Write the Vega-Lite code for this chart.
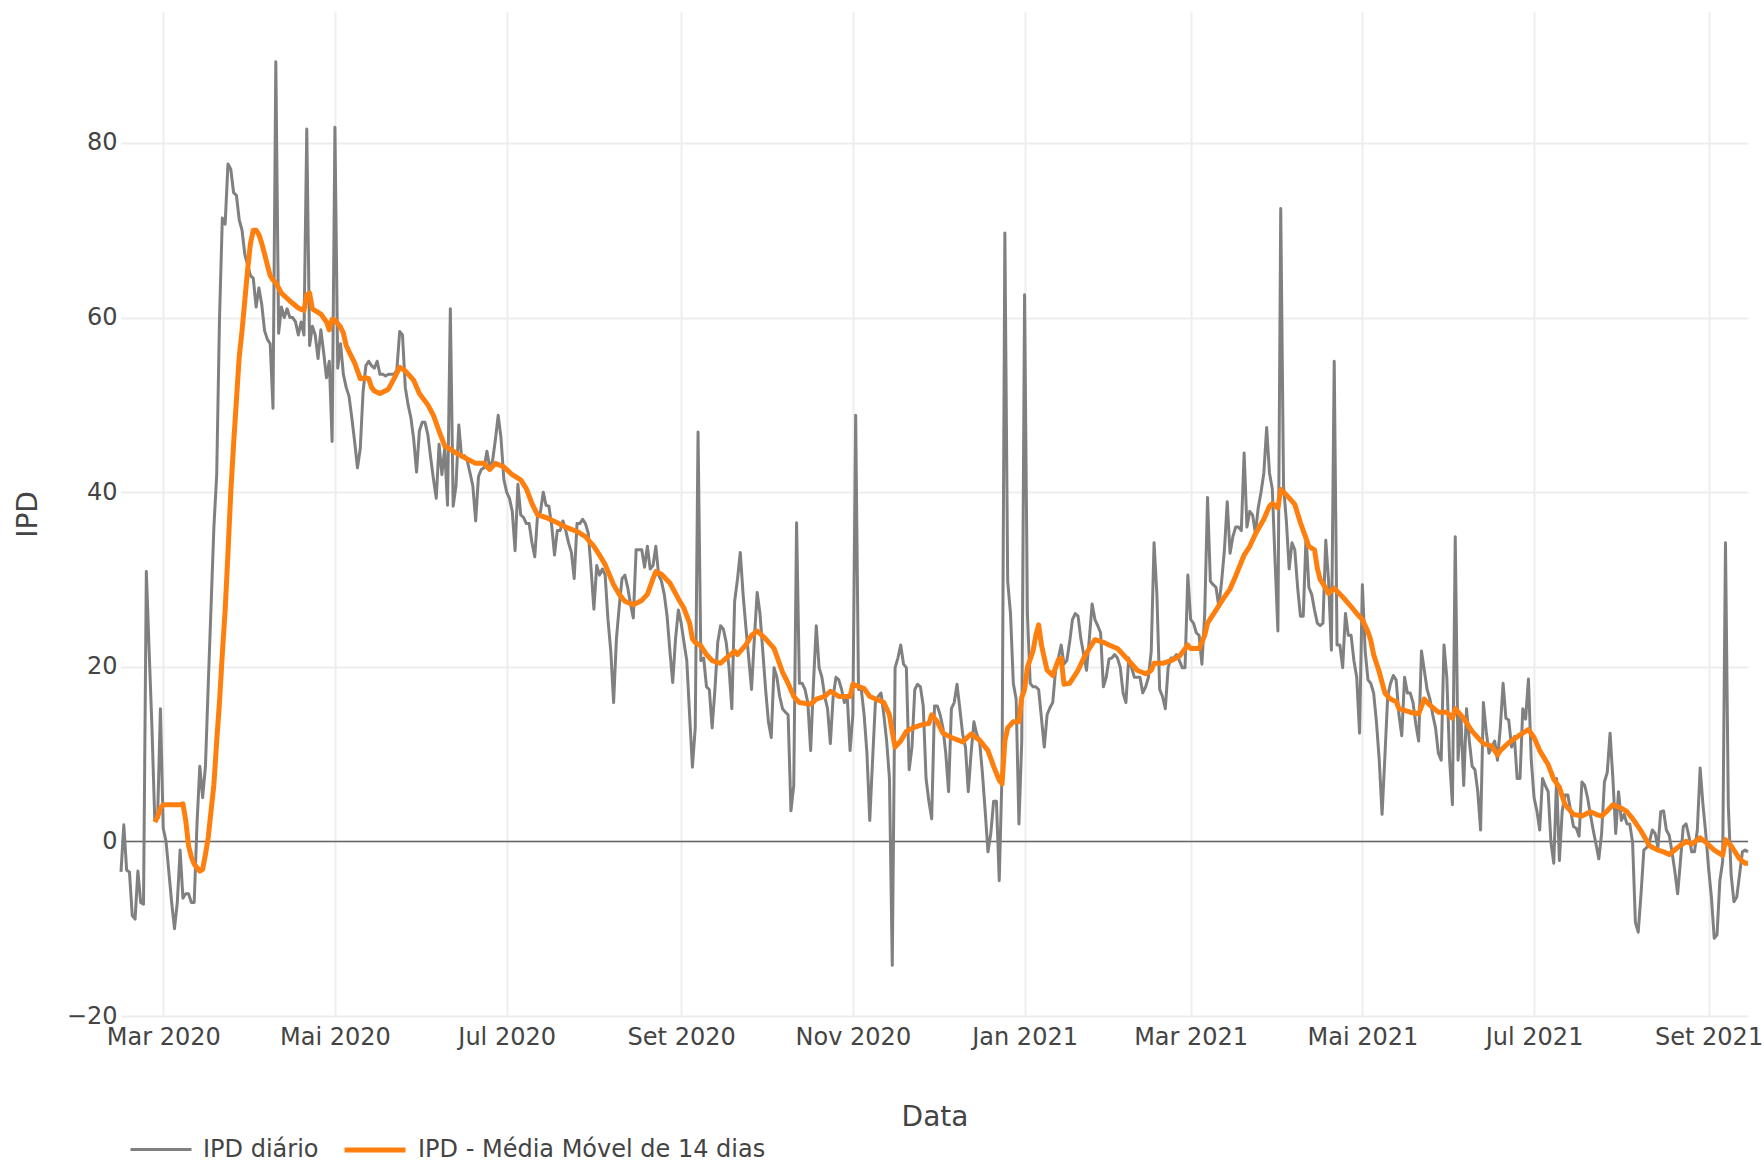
{
"$schema": "https://vega.github.io/schema/vega-lite/v6.json",
"width": 1627, "height": 1004,
"autosize": {"type": "none"},
"padding": {"left": 121, "top": 12, "right": 16, "bottom": 147},
"background": "white",
"config": {"view": {"stroke": null}, "font": "DejaVu Sans",
 "axis": {"domain": false, "ticks": false, "grid": true, "gridColor": "#eeeeee", "gridWidth": 2, "labelFont": "DejaVu Sans", "labelFontSize": 24, "labelColor": "#444444", "titleFont": "DejaVu Sans", "titleFontSize": 28, "titleColor": "#444444", "titleFontWeight": "normal"}},
"datasets": {
"diario": [
{"t":"2020-02-15","v":-3.5},{"t":"2020-02-16","v":1.9},{"t":"2020-02-17","v":-3.3},{"t":"2020-02-18","v":-3.5},{"t":"2020-02-19","v":-8.5},{"t":"2020-02-20","v":-8.9},{"t":"2020-02-21","v":-3.4},{"t":"2020-02-22","v":-7},{"t":"2020-02-23","v":-7.2},{"t":"2020-02-24","v":30.9},{"t":"2020-02-25","v":21.8},{"t":"2020-02-26","v":13},{"t":"2020-02-27","v":2.4},{"t":"2020-02-28","v":2.6},{"t":"2020-02-29","v":15.2},
{"t":"2020-03-01","v":1.5},{"t":"2020-03-02","v":0},{"t":"2020-03-03","v":-3.5},{"t":"2020-03-04","v":-7},{"t":"2020-03-05","v":-10},{"t":"2020-03-06","v":-7},{"t":"2020-03-07","v":-1},{"t":"2020-03-08","v":-6.5},{"t":"2020-03-09","v":-6},{"t":"2020-03-10","v":-6},{"t":"2020-03-11","v":-7},{"t":"2020-03-12","v":-7},{"t":"2020-03-13","v":2},{"t":"2020-03-14","v":8.6},{"t":"2020-03-15","v":5},{"t":"2020-03-16","v":8.6},{"t":"2020-03-17","v":18},{"t":"2020-03-18","v":27},{"t":"2020-03-19","v":36},{"t":"2020-03-20","v":42},{"t":"2020-03-21","v":60},{"t":"2020-03-22","v":71.4},{"t":"2020-03-23","v":70.7},{"t":"2020-03-24","v":77.6},{"t":"2020-03-25","v":77},{"t":"2020-03-26","v":74.3},{"t":"2020-03-27","v":74},{"t":"2020-03-28","v":71.2},{"t":"2020-03-29","v":70},{"t":"2020-03-30","v":67.2},{"t":"2020-03-31","v":66},
{"t":"2020-04-01","v":64.8},{"t":"2020-04-02","v":64.5},{"t":"2020-04-03","v":61.2},{"t":"2020-04-04","v":63.4},{"t":"2020-04-05","v":61.5},{"t":"2020-04-06","v":58.5},{"t":"2020-04-07","v":57.5},{"t":"2020-04-08","v":57},{"t":"2020-04-09","v":49.6},{"t":"2020-04-10","v":89.3},{"t":"2020-04-11","v":58.2},{"t":"2020-04-12","v":61.2},{"t":"2020-04-13","v":60},{"t":"2020-04-14","v":61},{"t":"2020-04-15","v":60},{"t":"2020-04-16","v":60},{"t":"2020-04-17","v":59.5},{"t":"2020-04-18","v":58},{"t":"2020-04-19","v":59.5},{"t":"2020-04-20","v":58},{"t":"2020-04-21","v":81.6},{"t":"2020-04-22","v":56.8},{"t":"2020-04-23","v":59},{"t":"2020-04-24","v":58},{"t":"2020-04-25","v":55.3},{"t":"2020-04-26","v":58.6},{"t":"2020-04-27","v":56},{"t":"2020-04-28","v":53.1},{"t":"2020-04-29","v":55},{"t":"2020-04-30","v":45.8},
{"t":"2020-05-01","v":81.8},{"t":"2020-05-02","v":54.2},{"t":"2020-05-03","v":57},{"t":"2020-05-04","v":53.5},{"t":"2020-05-05","v":52},{"t":"2020-05-06","v":51},{"t":"2020-05-07","v":48.5},{"t":"2020-05-08","v":45.8},{"t":"2020-05-09","v":42.8},{"t":"2020-05-10","v":45},{"t":"2020-05-11","v":51.5},{"t":"2020-05-12","v":54.5},{"t":"2020-05-13","v":55},{"t":"2020-05-14","v":54.5},{"t":"2020-05-15","v":54.2},{"t":"2020-05-16","v":55},{"t":"2020-05-17","v":53.5},{"t":"2020-05-18","v":53.5},{"t":"2020-05-19","v":53.3},{"t":"2020-05-20","v":53.5},{"t":"2020-05-21","v":53.5},{"t":"2020-05-22","v":53.5},{"t":"2020-05-23","v":54},{"t":"2020-05-24","v":58.4},{"t":"2020-05-25","v":58},{"t":"2020-05-26","v":52},{"t":"2020-05-27","v":50},{"t":"2020-05-28","v":48.5},{"t":"2020-05-29","v":46},{"t":"2020-05-30","v":42.3},{"t":"2020-05-31","v":47},
{"t":"2020-06-01","v":48},{"t":"2020-06-02","v":48},{"t":"2020-06-03","v":46.6},{"t":"2020-06-04","v":44},{"t":"2020-06-05","v":41.5},{"t":"2020-06-06","v":39.3},{"t":"2020-06-07","v":45.5},{"t":"2020-06-08","v":42},{"t":"2020-06-09","v":45},{"t":"2020-06-10","v":38.5},{"t":"2020-06-11","v":61},{"t":"2020-06-12","v":38.4},{"t":"2020-06-13","v":40.7},{"t":"2020-06-14","v":47.7},{"t":"2020-06-15","v":44},{"t":"2020-06-16","v":44.2},{"t":"2020-06-17","v":43.6},{"t":"2020-06-18","v":42.2},{"t":"2020-06-19","v":40.7},{"t":"2020-06-20","v":36.7},{"t":"2020-06-21","v":41.8},{"t":"2020-06-22","v":42.6},{"t":"2020-06-23","v":42.8},{"t":"2020-06-24","v":44.7},{"t":"2020-06-25","v":42.8},{"t":"2020-06-26","v":43.6},{"t":"2020-06-27","v":46},{"t":"2020-06-28","v":48.8},{"t":"2020-06-29","v":46.2},{"t":"2020-06-30","v":41.5},
{"t":"2020-07-01","v":40},{"t":"2020-07-02","v":39.3},{"t":"2020-07-03","v":37.8},{"t":"2020-07-04","v":33.3},{"t":"2020-07-05","v":40.9},{"t":"2020-07-06","v":37.4},{"t":"2020-07-07","v":37.1},{"t":"2020-07-08","v":36.4},{"t":"2020-07-09","v":36.4},{"t":"2020-07-10","v":34.2},{"t":"2020-07-11","v":32.6},{"t":"2020-07-12","v":37.5},{"t":"2020-07-13","v":37.7},{"t":"2020-07-14","v":40},{"t":"2020-07-15","v":38.5},{"t":"2020-07-16","v":38.4},{"t":"2020-07-17","v":36.2},{"t":"2020-07-18","v":32.8},{"t":"2020-07-19","v":35.6},{"t":"2020-07-20","v":35.6},{"t":"2020-07-21","v":36.7},{"t":"2020-07-22","v":35.6},{"t":"2020-07-23","v":34.2},{"t":"2020-07-24","v":33.1},{"t":"2020-07-25","v":30.1},{"t":"2020-07-26","v":36.4},{"t":"2020-07-27","v":36.4},{"t":"2020-07-28","v":36.9},{"t":"2020-07-29","v":36.4},{"t":"2020-07-30","v":35.3},{"t":"2020-07-31","v":31.2},
{"t":"2020-08-01","v":26.6},{"t":"2020-08-02","v":31.6},{"t":"2020-08-03","v":30.5},{"t":"2020-08-04","v":31.2},{"t":"2020-08-05","v":30.5},{"t":"2020-08-06","v":25.4},{"t":"2020-08-07","v":21.8},{"t":"2020-08-08","v":15.9},{"t":"2020-08-09","v":23.2},{"t":"2020-08-10","v":26.9},{"t":"2020-08-11","v":30.1},{"t":"2020-08-12","v":30.5},{"t":"2020-08-13","v":29.1},{"t":"2020-08-14","v":27.2},{"t":"2020-08-15","v":25.6},{"t":"2020-08-16","v":33.4},{"t":"2020-08-17","v":33.4},{"t":"2020-08-18","v":33.4},{"t":"2020-08-19","v":31.4},{"t":"2020-08-20","v":33.8},{"t":"2020-08-21","v":31.2},{"t":"2020-08-22","v":31.6},{"t":"2020-08-23","v":33.8},{"t":"2020-08-24","v":30.5},{"t":"2020-08-25","v":29.8},{"t":"2020-08-26","v":28.3},{"t":"2020-08-27","v":25.8},{"t":"2020-08-28","v":21.8},{"t":"2020-08-29","v":18.2},{"t":"2020-08-30","v":23.2},{"t":"2020-08-31","v":26.5},
{"t":"2020-09-01","v":25},{"t":"2020-09-02","v":22.8},{"t":"2020-09-03","v":20.7},{"t":"2020-09-04","v":14.5},{"t":"2020-09-05","v":8.5},{"t":"2020-09-06","v":13},{"t":"2020-09-07","v":46.9},{"t":"2020-09-08","v":20.7},{"t":"2020-09-09","v":21},{"t":"2020-09-10","v":17.7},{"t":"2020-09-11","v":17.4},{"t":"2020-09-12","v":13},{"t":"2020-09-13","v":17.4},{"t":"2020-09-14","v":22.8},{"t":"2020-09-15","v":24.7},{"t":"2020-09-16","v":24.3},{"t":"2020-09-17","v":22.8},{"t":"2020-09-18","v":19.9},{"t":"2020-09-19","v":15.2},{"t":"2020-09-20","v":27.5},{"t":"2020-09-21","v":30},{"t":"2020-09-22","v":33.1},{"t":"2020-09-23","v":28.3},{"t":"2020-09-24","v":24.5},{"t":"2020-09-25","v":21},{"t":"2020-09-26","v":17.4},{"t":"2020-09-27","v":23.2},{"t":"2020-09-28","v":28.5},{"t":"2020-09-29","v":26.1},{"t":"2020-09-30","v":21.8},
{"t":"2020-10-01","v":17.4},{"t":"2020-10-02","v":13.7},{"t":"2020-10-03","v":11.9},{"t":"2020-10-04","v":19.9},{"t":"2020-10-05","v":18.8},{"t":"2020-10-06","v":16.6},{"t":"2020-10-07","v":15.2},{"t":"2020-10-08","v":14.8},{"t":"2020-10-09","v":14.5},{"t":"2020-10-10","v":3.5},{"t":"2020-10-11","v":6.4},{"t":"2020-10-12","v":36.5},{"t":"2020-10-13","v":18.1},{"t":"2020-10-14","v":18.1},{"t":"2020-10-15","v":17.4},{"t":"2020-10-16","v":15.9},{"t":"2020-10-17","v":10.4},{"t":"2020-10-18","v":18.1},{"t":"2020-10-19","v":24.7},{"t":"2020-10-20","v":19.9},{"t":"2020-10-21","v":18.8},{"t":"2020-10-22","v":16.6},{"t":"2020-10-23","v":15.2},{"t":"2020-10-24","v":11.2},{"t":"2020-10-25","v":16.6},{"t":"2020-10-26","v":18.8},{"t":"2020-10-27","v":18.5},{"t":"2020-10-28","v":17.4},{"t":"2020-10-29","v":15.9},{"t":"2020-10-30","v":16.6},{"t":"2020-10-31","v":10.4},
{"t":"2020-11-01","v":14.5},{"t":"2020-11-02","v":48.8},{"t":"2020-11-03","v":17.4},{"t":"2020-11-04","v":17.4},{"t":"2020-11-05","v":14.5},{"t":"2020-11-06","v":10.1},{"t":"2020-11-07","v":2.4},{"t":"2020-11-08","v":9.3},{"t":"2020-11-09","v":15.9},{"t":"2020-11-10","v":16.6},{"t":"2020-11-11","v":17},{"t":"2020-11-12","v":14.5},{"t":"2020-11-13","v":11.5},{"t":"2020-11-14","v":7.2},{"t":"2020-11-15","v":-14.2},{"t":"2020-11-16","v":19.9},{"t":"2020-11-17","v":21},{"t":"2020-11-18","v":22.5},{"t":"2020-11-19","v":20.3},{"t":"2020-11-20","v":19.9},{"t":"2020-11-21","v":8.2},{"t":"2020-11-22","v":10.8},{"t":"2020-11-23","v":17.4},{"t":"2020-11-24","v":18},{"t":"2020-11-25","v":17.7},{"t":"2020-11-26","v":15.5},{"t":"2020-11-27","v":7.2},{"t":"2020-11-28","v":4.6},{"t":"2020-11-29","v":2.6},{"t":"2020-11-30","v":15.5},
{"t":"2020-12-01","v":15.5},{"t":"2020-12-02","v":14.5},{"t":"2020-12-03","v":13},{"t":"2020-12-04","v":10.1},{"t":"2020-12-05","v":5.7},{"t":"2020-12-06","v":15.2},{"t":"2020-12-07","v":15.9},{"t":"2020-12-08","v":18},{"t":"2020-12-09","v":15.2},{"t":"2020-12-10","v":12.3},{"t":"2020-12-11","v":10.8},{"t":"2020-12-12","v":5.7},{"t":"2020-12-13","v":10.1},{"t":"2020-12-14","v":13.7},{"t":"2020-12-15","v":12.3},{"t":"2020-12-16","v":11.5},{"t":"2020-12-17","v":7.9},{"t":"2020-12-18","v":3.5},{"t":"2020-12-19","v":-1.2},{"t":"2020-12-20","v":0.9},{"t":"2020-12-21","v":4.6},{"t":"2020-12-22","v":4.6},{"t":"2020-12-23","v":-4.5},{"t":"2020-12-24","v":7.9},{"t":"2020-12-25","v":69.7},{"t":"2020-12-26","v":29.8},{"t":"2020-12-27","v":26.1},{"t":"2020-12-28","v":18.1},{"t":"2020-12-29","v":16.3},{"t":"2020-12-30","v":2},{"t":"2020-12-31","v":11.5},
{"t":"2021-01-01","v":62.6},{"t":"2021-01-02","v":26.1},{"t":"2021-01-03","v":18.1},{"t":"2021-01-04","v":17.7},{"t":"2021-01-05","v":17.7},{"t":"2021-01-06","v":17.4},{"t":"2021-01-07","v":14.1},{"t":"2021-01-08","v":10.8},{"t":"2021-01-09","v":14.5},{"t":"2021-01-10","v":15.3},{"t":"2021-01-11","v":15.9},{"t":"2021-01-12","v":19.6},{"t":"2021-01-13","v":21},{"t":"2021-01-14","v":22.5},{"t":"2021-01-15","v":20.3},{"t":"2021-01-16","v":20.7},{"t":"2021-01-17","v":22.8},{"t":"2021-01-18","v":25.4},{"t":"2021-01-19","v":26.1},{"t":"2021-01-20","v":25.8},{"t":"2021-01-21","v":23.2},{"t":"2021-01-22","v":21.4},{"t":"2021-01-23","v":19.6},{"t":"2021-01-24","v":23.2},{"t":"2021-01-25","v":27.2},{"t":"2021-01-26","v":25.4},{"t":"2021-01-27","v":24.7},{"t":"2021-01-28","v":23.9},{"t":"2021-01-29","v":17.7},{"t":"2021-01-30","v":18.8},{"t":"2021-01-31","v":20.9},
{"t":"2021-02-01","v":21},{"t":"2021-02-02","v":21.4},{"t":"2021-02-03","v":21},{"t":"2021-02-04","v":19.9},{"t":"2021-02-05","v":17},{"t":"2021-02-06","v":15.9},{"t":"2021-02-07","v":21},{"t":"2021-02-08","v":19.9},{"t":"2021-02-09","v":18.8},{"t":"2021-02-10","v":18.8},{"t":"2021-02-11","v":18.8},{"t":"2021-02-12","v":17},{"t":"2021-02-13","v":17.7},{"t":"2021-02-14","v":18.8},{"t":"2021-02-15","v":21.8},{"t":"2021-02-16","v":34.2},{"t":"2021-02-17","v":28.3},{"t":"2021-02-18","v":17.4},{"t":"2021-02-19","v":16.6},{"t":"2021-02-20","v":15.2},{"t":"2021-02-21","v":19.9},{"t":"2021-02-22","v":21},{"t":"2021-02-23","v":21},{"t":"2021-02-24","v":21.4},{"t":"2021-02-25","v":20.7},{"t":"2021-02-26","v":19.9},{"t":"2021-02-27","v":19.9},{"t":"2021-02-28","v":30.5},
{"t":"2021-03-01","v":25.4},{"t":"2021-03-02","v":25},{"t":"2021-03-03","v":23.9},{"t":"2021-03-04","v":23.6},{"t":"2021-03-05","v":20.3},{"t":"2021-03-06","v":26.1},{"t":"2021-03-07","v":39.4},{"t":"2021-03-08","v":29.8},{"t":"2021-03-09","v":29.4},{"t":"2021-03-10","v":29.1},{"t":"2021-03-11","v":26.9},{"t":"2021-03-12","v":29.8},{"t":"2021-03-13","v":33.4},{"t":"2021-03-14","v":38.9},{"t":"2021-03-15","v":33},{"t":"2021-03-16","v":34.9},{"t":"2021-03-17","v":36},{"t":"2021-03-18","v":36},{"t":"2021-03-19","v":35.6},{"t":"2021-03-20","v":44.5},{"t":"2021-03-21","v":36},{"t":"2021-03-22","v":37.8},{"t":"2021-03-23","v":37.4},{"t":"2021-03-24","v":35.3},{"t":"2021-03-25","v":38.2},{"t":"2021-03-26","v":40},{"t":"2021-03-27","v":42.2},{"t":"2021-03-28","v":47.4},{"t":"2021-03-29","v":42.2},{"t":"2021-03-30","v":40.4},{"t":"2021-03-31","v":32},
{"t":"2021-04-01","v":24.1},{"t":"2021-04-02","v":72.5},{"t":"2021-04-03","v":40.7},{"t":"2021-04-04","v":36.7},{"t":"2021-04-05","v":31.2},{"t":"2021-04-06","v":34.2},{"t":"2021-04-07","v":33.4},{"t":"2021-04-08","v":29.1},{"t":"2021-04-09","v":25.8},{"t":"2021-04-10","v":25.8},{"t":"2021-04-11","v":35},{"t":"2021-04-12","v":29.1},{"t":"2021-04-13","v":28.3},{"t":"2021-04-14","v":26.5},{"t":"2021-04-15","v":25},{"t":"2021-04-16","v":24.7},{"t":"2021-04-17","v":25},{"t":"2021-04-18","v":34.5},{"t":"2021-04-19","v":29.8},{"t":"2021-04-20","v":21.9},{"t":"2021-04-21","v":55},{"t":"2021-04-22","v":22.5},{"t":"2021-04-23","v":22.5},{"t":"2021-04-24","v":19.9},{"t":"2021-04-25","v":26.1},{"t":"2021-04-26","v":23.6},{"t":"2021-04-27","v":23.6},{"t":"2021-04-28","v":20.7},{"t":"2021-04-29","v":18.8},{"t":"2021-04-30","v":12.4},
{"t":"2021-05-01","v":29.4},{"t":"2021-05-02","v":21.8},{"t":"2021-05-03","v":18.5},{"t":"2021-05-04","v":18.1},{"t":"2021-05-05","v":17},{"t":"2021-05-06","v":13.7},{"t":"2021-05-07","v":9.3},{"t":"2021-05-08","v":3.1},{"t":"2021-05-09","v":9.7},{"t":"2021-05-10","v":16.6},{"t":"2021-05-11","v":18.1},{"t":"2021-05-12","v":19},{"t":"2021-05-13","v":18.5},{"t":"2021-05-14","v":14.5},{"t":"2021-05-15","v":12.1},{"t":"2021-05-16","v":18.8},{"t":"2021-05-17","v":17},{"t":"2021-05-18","v":17},{"t":"2021-05-19","v":15.9},{"t":"2021-05-20","v":13.4},{"t":"2021-05-21","v":11.5},{"t":"2021-05-22","v":21.8},{"t":"2021-05-23","v":19.6},{"t":"2021-05-24","v":17.4},{"t":"2021-05-25","v":16.3},{"t":"2021-05-26","v":14.5},{"t":"2021-05-27","v":13},{"t":"2021-05-28","v":10.1},{"t":"2021-05-29","v":9.3},{"t":"2021-05-30","v":22.5},{"t":"2021-05-31","v":18.8},
{"t":"2021-06-01","v":9.3},{"t":"2021-06-02","v":4.2},{"t":"2021-06-03","v":34.9},{"t":"2021-06-04","v":9.3},{"t":"2021-06-05","v":14.5},{"t":"2021-06-06","v":6.4},{"t":"2021-06-07","v":15.2},{"t":"2021-06-08","v":11.5},{"t":"2021-06-09","v":8.6},{"t":"2021-06-10","v":8.2},{"t":"2021-06-11","v":5.7},{"t":"2021-06-12","v":1.3},{"t":"2021-06-13","v":15.9},{"t":"2021-06-14","v":12.6},{"t":"2021-06-15","v":10.1},{"t":"2021-06-16","v":10.8},{"t":"2021-06-17","v":11.5},{"t":"2021-06-18","v":9.3},{"t":"2021-06-19","v":13},{"t":"2021-06-20","v":18.1},{"t":"2021-06-21","v":14.1},{"t":"2021-06-22","v":13.9},{"t":"2021-06-23","v":10.8},{"t":"2021-06-24","v":12},{"t":"2021-06-25","v":7.2},{"t":"2021-06-26","v":7.2},{"t":"2021-06-27","v":15.2},{"t":"2021-06-28","v":14},{"t":"2021-06-29","v":18.6},{"t":"2021-06-30","v":9.3},
{"t":"2021-07-01","v":5},{"t":"2021-07-02","v":3.5},{"t":"2021-07-03","v":1.3},{"t":"2021-07-04","v":7.2},{"t":"2021-07-05","v":6.4},{"t":"2021-07-06","v":5.7},{"t":"2021-07-07","v":-0.1},{"t":"2021-07-08","v":-2.5},{"t":"2021-07-09","v":7.2},{"t":"2021-07-10","v":-2.2},{"t":"2021-07-11","v":3.5},{"t":"2021-07-12","v":5.3},{"t":"2021-07-13","v":5.3},{"t":"2021-07-14","v":3.5},{"t":"2021-07-15","v":1.7},{"t":"2021-07-16","v":1.5},{"t":"2021-07-17","v":0.6},{"t":"2021-07-18","v":6.8},{"t":"2021-07-19","v":6.4},{"t":"2021-07-20","v":5},{"t":"2021-07-21","v":3.1},{"t":"2021-07-22","v":1.3},{"t":"2021-07-23","v":-0.3},{"t":"2021-07-24","v":-2},{"t":"2021-07-25","v":0.9},{"t":"2021-07-26","v":6.8},{"t":"2021-07-27","v":7.9},{"t":"2021-07-28","v":12.4},{"t":"2021-07-29","v":7.2},{"t":"2021-07-30","v":0.9},{"t":"2021-07-31","v":5.7},
{"t":"2021-08-01","v":2.4},{"t":"2021-08-02","v":3.1},{"t":"2021-08-03","v":2},{"t":"2021-08-04","v":2},{"t":"2021-08-05","v":-0.1},{"t":"2021-08-06","v":-9.3},{"t":"2021-08-07","v":-10.4},{"t":"2021-08-08","v":-6},{"t":"2021-08-09","v":-1},{"t":"2021-08-10","v":-0.7},{"t":"2021-08-11","v":0},{"t":"2021-08-12","v":1.3},{"t":"2021-08-13","v":0.9},{"t":"2021-08-14","v":-0.7},{"t":"2021-08-15","v":3.4},{"t":"2021-08-16","v":3.5},{"t":"2021-08-17","v":1.3},{"t":"2021-08-18","v":0.7},{"t":"2021-08-19","v":-1.2},{"t":"2021-08-20","v":-3.4},{"t":"2021-08-21","v":-6},{"t":"2021-08-22","v":-2.3},{"t":"2021-08-23","v":1.7},{"t":"2021-08-24","v":2},{"t":"2021-08-25","v":0.6},{"t":"2021-08-26","v":-1.2},{"t":"2021-08-27","v":-1.2},{"t":"2021-08-28","v":1.3},{"t":"2021-08-29","v":8.4},{"t":"2021-08-30","v":4.2},{"t":"2021-08-31","v":0.9},
{"t":"2021-09-01","v":-3.1},{"t":"2021-09-02","v":-6.4},{"t":"2021-09-03","v":-11.1},{"t":"2021-09-04","v":-10.7},{"t":"2021-09-05","v":-4.5},{"t":"2021-09-06","v":-2.3},{"t":"2021-09-07","v":34.2},{"t":"2021-09-08","v":4.2},{"t":"2021-09-09","v":-3.8},{"t":"2021-09-10","v":-6.9},{"t":"2021-09-11","v":-6.4},{"t":"2021-09-12","v":-3.8},{"t":"2021-09-13","v":-1.2},{"t":"2021-09-14","v":-1},{"t":"2021-09-15","v":-1.2}
],
"mm": [
{"t":"2020-02-27","v":2.2},{"t":"2020-02-28","v":2.8},{"t":"2020-02-29","v":3.8},{"t":"2020-03-01","v":4.2},{"t":"2020-03-04","v":4.2},{"t":"2020-03-07","v":4.2},{"t":"2020-03-08","v":4.3},{"t":"2020-03-09","v":2.4},{"t":"2020-03-10","v":-0.5},{"t":"2020-03-11","v":-1.8},{"t":"2020-03-12","v":-2.6},{"t":"2020-03-14","v":-3.4},{"t":"2020-03-15","v":-3.2},{"t":"2020-03-16","v":-1.5},{"t":"2020-03-17","v":0.5},{"t":"2020-03-18","v":3.5},{"t":"2020-03-19","v":6.5},{"t":"2020-03-20","v":11.5},{"t":"2020-03-21","v":16},{"t":"2020-03-22","v":21.5},{"t":"2020-03-23","v":26.5},{"t":"2020-03-24","v":33},{"t":"2020-03-25","v":40},{"t":"2020-03-26","v":45.5},{"t":"2020-03-27","v":50.5},{"t":"2020-03-28","v":55.5},{"t":"2020-03-29","v":58.5},{"t":"2020-03-30","v":62},{"t":"2020-03-31","v":65.5},
{"t":"2020-04-01","v":68.5},{"t":"2020-04-02","v":70},{"t":"2020-04-03","v":70},{"t":"2020-04-04","v":69.5},{"t":"2020-04-05","v":68.5},{"t":"2020-04-06","v":67.3},{"t":"2020-04-07","v":66},{"t":"2020-04-08","v":64.8},{"t":"2020-04-09","v":64.3},{"t":"2020-04-10","v":64},{"t":"2020-04-12","v":62.8},{"t":"2020-04-15","v":61.9},{"t":"2020-04-18","v":61.1},{"t":"2020-04-20","v":60.8},{"t":"2020-04-21","v":62.6},{"t":"2020-04-22","v":62.8},{"t":"2020-04-23","v":61},{"t":"2020-04-26","v":60.4},{"t":"2020-04-28","v":59.5},{"t":"2020-04-29","v":58.6},{"t":"2020-04-30","v":59.8},
{"t":"2020-05-01","v":59.7},{"t":"2020-05-03","v":58.9},{"t":"2020-05-04","v":58.2},{"t":"2020-05-05","v":56.8},{"t":"2020-05-06","v":56.1},{"t":"2020-05-08","v":54.8},{"t":"2020-05-10","v":53},{"t":"2020-05-12","v":53.1},{"t":"2020-05-13","v":53},{"t":"2020-05-14","v":52},{"t":"2020-05-15","v":51.6},{"t":"2020-05-17","v":51.3},{"t":"2020-05-20","v":51.8},{"t":"2020-05-22","v":53},{"t":"2020-05-24","v":54.3},{"t":"2020-05-26","v":53.9},{"t":"2020-05-29","v":52.8},{"t":"2020-05-31","v":51.3},
{"t":"2020-06-03","v":50},{"t":"2020-06-05","v":48.8},{"t":"2020-06-07","v":47},{"t":"2020-06-09","v":45.3},{"t":"2020-06-10","v":45.1},{"t":"2020-06-13","v":44.5},{"t":"2020-06-17","v":43.8},{"t":"2020-06-20","v":43.3},{"t":"2020-06-23","v":43.3},{"t":"2020-06-25","v":42.6},{"t":"2020-06-27","v":43.3},{"t":"2020-06-30","v":42.9},
{"t":"2020-07-03","v":42},{"t":"2020-07-06","v":41.4},{"t":"2020-07-08","v":40.4},{"t":"2020-07-10","v":38.7},{"t":"2020-07-12","v":37.4},{"t":"2020-07-15","v":37.1},{"t":"2020-07-19","v":36.5},{"t":"2020-07-22","v":36},{"t":"2020-07-26","v":35.5},{"t":"2020-07-29","v":34.9},
{"t":"2020-08-01","v":33.8},{"t":"2020-08-03","v":32.8},{"t":"2020-08-05","v":31.7},{"t":"2020-08-08","v":29.4},{"t":"2020-08-10","v":28.3},{"t":"2020-08-12","v":27.5},{"t":"2020-08-15","v":27.1},{"t":"2020-08-18","v":27.6},{"t":"2020-08-20","v":28.3},{"t":"2020-08-22","v":30.1},{"t":"2020-08-23","v":30.9},{"t":"2020-08-25","v":30.6},{"t":"2020-08-28","v":29.6},{"t":"2020-08-31","v":27.8},
{"t":"2020-09-02","v":26.7},{"t":"2020-09-04","v":25},{"t":"2020-09-05","v":23.2},{"t":"2020-09-06","v":22.8},{"t":"2020-09-08","v":22.4},{"t":"2020-09-10","v":21.4},{"t":"2020-09-12","v":20.7},{"t":"2020-09-15","v":20.4},{"t":"2020-09-17","v":21},{"t":"2020-09-20","v":21.8},{"t":"2020-09-21","v":21.4},{"t":"2020-09-24","v":22.5},{"t":"2020-09-26","v":23.6},{"t":"2020-09-28","v":24.1},
{"t":"2020-10-01","v":23.2},{"t":"2020-10-04","v":22.1},{"t":"2020-10-07","v":19.4},{"t":"2020-10-09","v":18.1},{"t":"2020-10-11","v":16.6},{"t":"2020-10-13","v":15.9},{"t":"2020-10-17","v":15.7},{"t":"2020-10-19","v":16.3},{"t":"2020-10-22","v":16.6},{"t":"2020-10-24","v":17.2},{"t":"2020-10-27","v":16.6},{"t":"2020-10-31","v":16.6},
{"t":"2020-11-01","v":18},{"t":"2020-11-05","v":17.5},{"t":"2020-11-07","v":16.6},{"t":"2020-11-10","v":16.2},{"t":"2020-11-12","v":15.9},{"t":"2020-11-14","v":14.5},{"t":"2020-11-15","v":12.5},{"t":"2020-11-16","v":10.8},{"t":"2020-11-18","v":11.5},{"t":"2020-11-20","v":12.6},{"t":"2020-11-23","v":13.1},{"t":"2020-11-26","v":13.4},{"t":"2020-11-28","v":13.5},{"t":"2020-11-29","v":14.5},
{"t":"2020-12-01","v":13.7},{"t":"2020-12-03","v":12.4},{"t":"2020-12-06","v":11.9},{"t":"2020-12-10","v":11.4},{"t":"2020-12-13","v":12.3},{"t":"2020-12-16","v":11.6},{"t":"2020-12-19","v":10.4},{"t":"2020-12-21","v":8.6},{"t":"2020-12-23","v":7},{"t":"2020-12-24","v":6.6},{"t":"2020-12-25","v":11.5},{"t":"2020-12-26","v":13},{"t":"2020-12-28","v":13.7},{"t":"2020-12-30","v":13.7},{"t":"2020-12-31","v":16.5},
{"t":"2021-01-01","v":17.4},{"t":"2021-01-02","v":19.9},{"t":"2021-01-04","v":21.8},{"t":"2021-01-05","v":23.6},{"t":"2021-01-06","v":24.8},{"t":"2021-01-07","v":22.5},{"t":"2021-01-08","v":21},{"t":"2021-01-09","v":19.6},{"t":"2021-01-11","v":19},{"t":"2021-01-13","v":20.8},{"t":"2021-01-14","v":21},{"t":"2021-01-15","v":18},{"t":"2021-01-17","v":18.1},{"t":"2021-01-20","v":19.6},{"t":"2021-01-22","v":21},{"t":"2021-01-24","v":22.1},{"t":"2021-01-26","v":23.1},{"t":"2021-01-29","v":22.8},{"t":"2021-01-31","v":22.5},
{"t":"2021-02-03","v":22.1},{"t":"2021-02-05","v":21.4},{"t":"2021-02-07","v":20.7},{"t":"2021-02-10","v":19.6},{"t":"2021-02-13","v":19.2},{"t":"2021-02-15","v":19.6},{"t":"2021-02-16","v":20.4},{"t":"2021-02-19","v":20.4},{"t":"2021-02-22","v":20.7},{"t":"2021-02-25","v":21.2},{"t":"2021-02-28","v":22.5},
{"t":"2021-03-01","v":22.1},{"t":"2021-03-04","v":22.1},{"t":"2021-03-06","v":23.6},{"t":"2021-03-07","v":25},{"t":"2021-03-10","v":26.5},{"t":"2021-03-13","v":28},{"t":"2021-03-15","v":28.9},{"t":"2021-03-17","v":30.4},{"t":"2021-03-20","v":32.8},{"t":"2021-03-22","v":33.8},{"t":"2021-03-24","v":35.2},{"t":"2021-03-27","v":36.9},{"t":"2021-03-29","v":38.4},{"t":"2021-03-30","v":38.7},
{"t":"2021-04-01","v":38.2},{"t":"2021-04-02","v":40.3},{"t":"2021-04-04","v":39.7},{"t":"2021-04-07","v":38.6},{"t":"2021-04-09","v":36.5},{"t":"2021-04-10","v":35.6},{"t":"2021-04-12","v":33.8},{"t":"2021-04-14","v":33.4},{"t":"2021-04-15","v":31.3},{"t":"2021-04-16","v":30},{"t":"2021-04-18","v":29},{"t":"2021-04-19","v":28.4},{"t":"2021-04-21","v":29},{"t":"2021-04-24","v":28},{"t":"2021-04-27","v":26.9},{"t":"2021-04-29","v":26.1},
{"t":"2021-05-01","v":25.4},{"t":"2021-05-03","v":24},{"t":"2021-05-04","v":23},{"t":"2021-05-05","v":21.4},{"t":"2021-05-07","v":19.4},{"t":"2021-05-09","v":17},{"t":"2021-05-11","v":16.3},{"t":"2021-05-13","v":16},{"t":"2021-05-14","v":15.2},{"t":"2021-05-18","v":14.8},{"t":"2021-05-21","v":14.6},{"t":"2021-05-23","v":16.3},{"t":"2021-05-25","v":15.6},{"t":"2021-05-28","v":14.8},{"t":"2021-05-31","v":14.8},
{"t":"2021-06-02","v":14.1},{"t":"2021-06-03","v":15.2},{"t":"2021-06-06","v":14.1},{"t":"2021-06-09","v":12.6},{"t":"2021-06-13","v":11.2},{"t":"2021-06-16","v":10.9},{"t":"2021-06-18","v":9.9},{"t":"2021-06-19","v":10.4},{"t":"2021-06-22","v":11.3},{"t":"2021-06-26","v":12.2},{"t":"2021-06-29","v":12.8},
{"t":"2021-07-01","v":11.9},{"t":"2021-07-03","v":10.4},{"t":"2021-07-06","v":8.8},{"t":"2021-07-08","v":7.1},{"t":"2021-07-10","v":6.2},{"t":"2021-07-12","v":4.2},{"t":"2021-07-15","v":3.1},{"t":"2021-07-18","v":2.9},{"t":"2021-07-21","v":3.4},{"t":"2021-07-23","v":3.1},{"t":"2021-07-25","v":2.9},{"t":"2021-07-27","v":3.5},{"t":"2021-07-29","v":4.2},
{"t":"2021-08-01","v":3.8},{"t":"2021-08-03","v":3.4},{"t":"2021-08-05","v":2.6},{"t":"2021-08-08","v":1.2},{"t":"2021-08-11","v":-0.5},{"t":"2021-08-14","v":-1},{"t":"2021-08-16","v":-1.2},{"t":"2021-08-18","v":-1.5},{"t":"2021-08-21","v":-0.7},{"t":"2021-08-24","v":0},{"t":"2021-08-26","v":-0.3},{"t":"2021-08-29","v":0.4},{"t":"2021-08-31","v":-0.1},
{"t":"2021-09-03","v":-1},{"t":"2021-09-06","v":-1.6},{"t":"2021-09-07","v":0.2},{"t":"2021-09-09","v":-0.5},{"t":"2021-09-12","v":-2},{"t":"2021-09-14","v":-2.5},{"t":"2021-09-15","v":-2.5}
]
},
"layer": [
{"data": {"values": [{}]},
 "mark": {"type": "rule", "color": "#666666", "strokeWidth": 1.5},
 "encoding": {"y": {"datum": 0, "type": "quantitative"}}},
{"data": {"name": "diario"},
 "mark": {"type": "line", "interpolate": "linear", "strokeJoin": "round"},
 "encoding": {
  "x": {"field": "t", "type": "temporal",
   "scale": {"type": "utc", "nice": false, "domain": [{"year": 2020, "month": 2, "date": 15, "utc": true}, {"year": 2021, "month": 9, "date": 15, "utc": true}]},
   "axis": {"title": "Data", "titleBaseline": "alphabetic", "titleY": 109, "labelPadding": 9,
    "values": [{"year": 2020, "month": 3, "date": 1, "utc": true}, {"year": 2020, "month": 5, "date": 1, "utc": true}, {"year": 2020, "month": 7, "date": 1, "utc": true}, {"year": 2020, "month": 9, "date": 1, "utc": true}, {"year": 2020, "month": 11, "date": 1, "utc": true}, {"year": 2021, "month": 1, "date": 1, "utc": true}, {"year": 2021, "month": 3, "date": 1, "utc": true}, {"year": 2021, "month": 5, "date": 1, "utc": true}, {"year": 2021, "month": 7, "date": 1, "utc": true}, {"year": 2021, "month": 9, "date": 1, "utc": true}],
    "labelExpr": "['Jan','Fev','Mar','Abr','Mai','Jun','Jul','Ago','Set','Out','Nov','Dez'][utcmonth(datum.value)] + ' ' + utcyear(datum.value)"}},
  "y": {"field": "v", "type": "quantitative",
   "scale": {"domain": [-20, 95], "nice": false, "zero": false},
   "axis": {"title": "IPD", "values": [-20, 0, 20, 40, 60, 80], "labelPadding": 4, "titleX": -93, "titleBaseline": "middle"}},
  "color": {"datum": "IPD diário", "type": "nominal",
   "scale": {"domain": ["IPD diário", "IPD - Média Móvel de 14 dias"], "range": ["#808080", "#ff7f0e"]},
   "legend": {"orient": "none", "legendX": 8, "legendY": 1105, "direction": "horizontal", "title": null, "symbolType": "stroke", "symbolSize": 3721, "symbolStrokeWidth": 4, "labelFontSize": 24, "labelFont": "DejaVu Sans", "labelColor": "#444444", "labelOffset": 10, "labelLimit": 800, "columnPadding": 15, "padding": 0}},
  "strokeWidth": {"datum": "IPD diário", "type": "nominal",
   "scale": {"domain": ["IPD diário", "IPD - Média Móvel de 14 dias"], "range": [3, 5]},
   "legend": {"orient": "none", "legendX": 8, "legendY": 1105, "direction": "horizontal", "title": null, "symbolType": "stroke", "symbolSize": 3721, "labelFontSize": 24, "labelFont": "DejaVu Sans", "labelColor": "#444444", "labelOffset": 10, "labelLimit": 800, "columnPadding": 15, "padding": 0}}
 }},
{"data": {"name": "mm"},
 "mark": {"type": "line", "interpolate": "linear", "strokeJoin": "round"},
 "encoding": {
  "x": {"field": "t", "type": "temporal"},
  "y": {"field": "v", "type": "quantitative"},
  "color": {"datum": "IPD - Média Móvel de 14 dias", "type": "nominal"},
  "strokeWidth": {"datum": "IPD - Média Móvel de 14 dias", "type": "nominal"}
 }}
]
}
